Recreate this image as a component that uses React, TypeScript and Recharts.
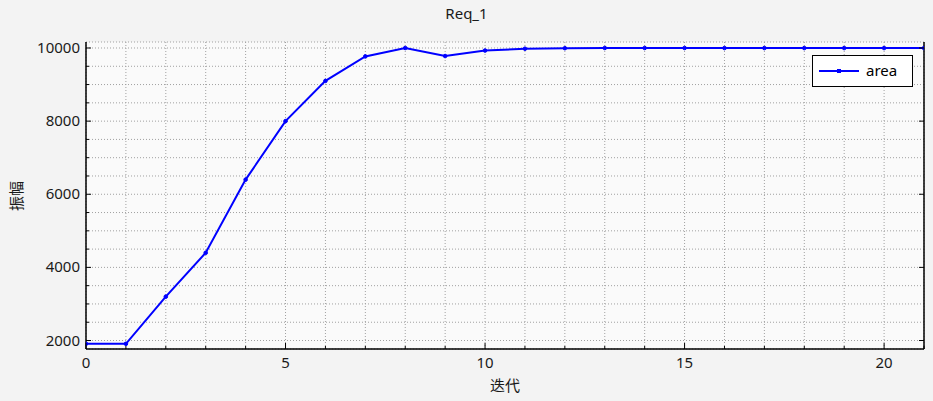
import React from 'react';
import { LineChart, Line, XAxis, YAxis, CartesianGrid } from 'recharts';

const iterations = [0, 1, 2, 3, 4, 5, 6, 7, 8, 9, 10, 11, 12, 13, 14, 15, 16, 17, 18, 19, 20, 21];
const areaValues = [1910, 1910, 3200, 4400, 6400, 8000, 9100, 9770, 10000, 9780, 9930, 9980, 9995, 10000, 10000, 10000, 9998, 9998, 9998, 9998, 9998, 9998];
const xTicks = iterations;
const xMajorTicks = [0, 5, 10, 15, 20];
const yTicks = [2000, 2500, 3000, 3500, 4000, 4500, 5000, 5500, 6000, 6500, 7000, 7500, 8000, 8500, 9000, 9500, 10000];
const yMajorTicks = [2000, 4000, 6000, 8000, 10000];
const title = 'Req_1';
const xLabel = '迭代';
const yLabel = '振幅';
const seriesName = 'area';

const data = iterations.map((it, i) => ({ it, area: areaValues[i] }));

const FONT = "'Noto Sans', 'Noto Sans CJK SC', sans-serif";
const BLUE = '#0000ff';

const BottomTick = (props: any) => {
  const { x, y, payload } = props;
  const v = payload.value;
  const major = v % 5 === 0;
  return (
    <g>
      <line x1={x} x2={x} y1={y} y2={y - (major ? 6 : 3)} stroke="#000" strokeWidth={1} />
      {major && (
        <text x={x} y={y + 19} textAnchor="middle" fontSize={15} fontFamily={FONT} fill="#1a1a1a">
          {v}
        </text>
      )}
    </g>
  );
};

const LeftTick = (props: any) => {
  const { x, y, payload } = props;
  const v = payload.value;
  const major = v % 2000 === 0;
  return (
    <g>
      <line x1={x} x2={x + (major ? 5 : 3)} y1={y} y2={y} stroke="#000" strokeWidth={1} />
      {major && (
        <text x={x - 6} y={y + 5} textAnchor="end" fontSize={15} fontFamily={FONT} fill="#1a1a1a">
          {v}
        </text>
      )}
    </g>
  );
};

const TopTick = (props: any) => {
  const { x, y } = props;
  return <line x1={x} x2={x} y1={y} y2={y + 5} stroke="#000" strokeWidth={1} />;
};

const RightTick = (props: any) => {
  const { x, y } = props;
  return <line x1={x} x2={x - 5} y1={y} y2={y} stroke="#000" strokeWidth={1} />;
};

const LegendBox = () => (
  <div
    style={{
      position: 'absolute',
      left: 812,
      top: 55,
      width: 101,
      height: 32,
      background: '#ffffff',
      border: '1px solid #000',
      boxSizing: 'border-box',
    }}
  >
    <svg width={50} height={30} style={{ position: 'absolute', left: 0, top: 0 }}>
      <line x1={6} x2={46} y1={15} y2={15} stroke={BLUE} strokeWidth={2} />
      <rect x={24} y={13} width={4} height={4} fill={BLUE} />
    </svg>
    <span
      style={{
        position: 'absolute',
        left: 53,
        top: 4,
        fontSize: 15,
        fontFamily: FONT,
        color: '#000',
        lineHeight: '20px',
      }}
    >
      {seriesName}
    </span>
  </div>
);

export default function App() {
  return (
    <div
      style={{
        position: 'absolute',
        left: 0,
        top: 0,
        width: 933,
        height: 401,
        background: '#f3f3f3',
      }}
    >
      <div
        style={{
          position: 'absolute',
          left: 0,
          top: 2,
          width: 933,
          textAlign: 'center',
          fontFamily: FONT,
          fontSize: 15,
          color: '#1a1a1a',
          lineHeight: '22px',
        }}
      >
        {title}
      </div>
      <div
        style={{
          position: 'absolute',
          left: 86,
          width: 838,
          top: 374,
          textAlign: 'center',
          fontFamily: FONT,
          fontSize: 15,
          color: '#1a1a1a',
          lineHeight: '22px',
        }}
      >
        {xLabel}
      </div>
      <div
        style={{
          position: 'absolute',
          left: 16,
          top: 196,
          transform: 'translate(-50%, -50%) rotate(-90deg)',
          fontFamily: FONT,
          fontSize: 15,
          color: '#1a1a1a',
          lineHeight: '22px',
          whiteSpace: 'nowrap',
        }}
      >
        {yLabel}
      </div>
      <LineChart
        width={933}
        height={401}
        data={data}
        margin={{ top: 42, right: 0, bottom: 22, left: 0 }}
        style={{ position: 'absolute', left: 0, top: 0 }}
      >
        <CartesianGrid fill="#fafafa" stroke="#a0a0a0" strokeDasharray="1 2" />
        <XAxis
          dataKey="it"
          type="number"
          domain={[0, 21]}
          ticks={xTicks}
          interval={0}
          allowDataOverflow
          tickSize={0}
          tickMargin={0}
          tickLine={false}
          axisLine={{ stroke: '#000', strokeWidth: 1.5 }}
          tick={<BottomTick />}
          height={30}
        />
        <XAxis
          xAxisId="top"
          orientation="top"
          type="number"
          domain={[0, 21]}
          ticks={xMajorTicks}
          interval={0}
          allowDataOverflow
          tickSize={0}
          tickMargin={0}
          tickLine={false}
          axisLine={{ stroke: '#000', strokeWidth: 1.5 }}
          tick={<TopTick />}
          height={0}
        />
        <YAxis
          type="number"
          domain={[1768, 10164]}
          ticks={yTicks}
          interval={0}
          allowDataOverflow
          tickSize={0}
          tickMargin={0}
          tickLine={false}
          axisLine={{ stroke: '#000', strokeWidth: 1.5 }}
          tick={<LeftTick />}
          width={86}
        />
        <YAxis
          yAxisId="right"
          orientation="right"
          type="number"
          domain={[1768, 10164]}
          ticks={yMajorTicks}
          interval={0}
          allowDataOverflow
          tickSize={0}
          tickMargin={0}
          tickLine={false}
          axisLine={{ stroke: '#000', strokeWidth: 1.5 }}
          tick={<RightTick />}
          width={9}
        />
        <Line
          type="linear"
          dataKey="area"
          name={seriesName}
          stroke={BLUE}
          strokeWidth={2}
          dot={{ r: 1.8, fill: BLUE, stroke: BLUE, strokeWidth: 1 }}
          isAnimationActive={false}
        />
      </LineChart>
      <LegendBox />
    </div>
  );
}
